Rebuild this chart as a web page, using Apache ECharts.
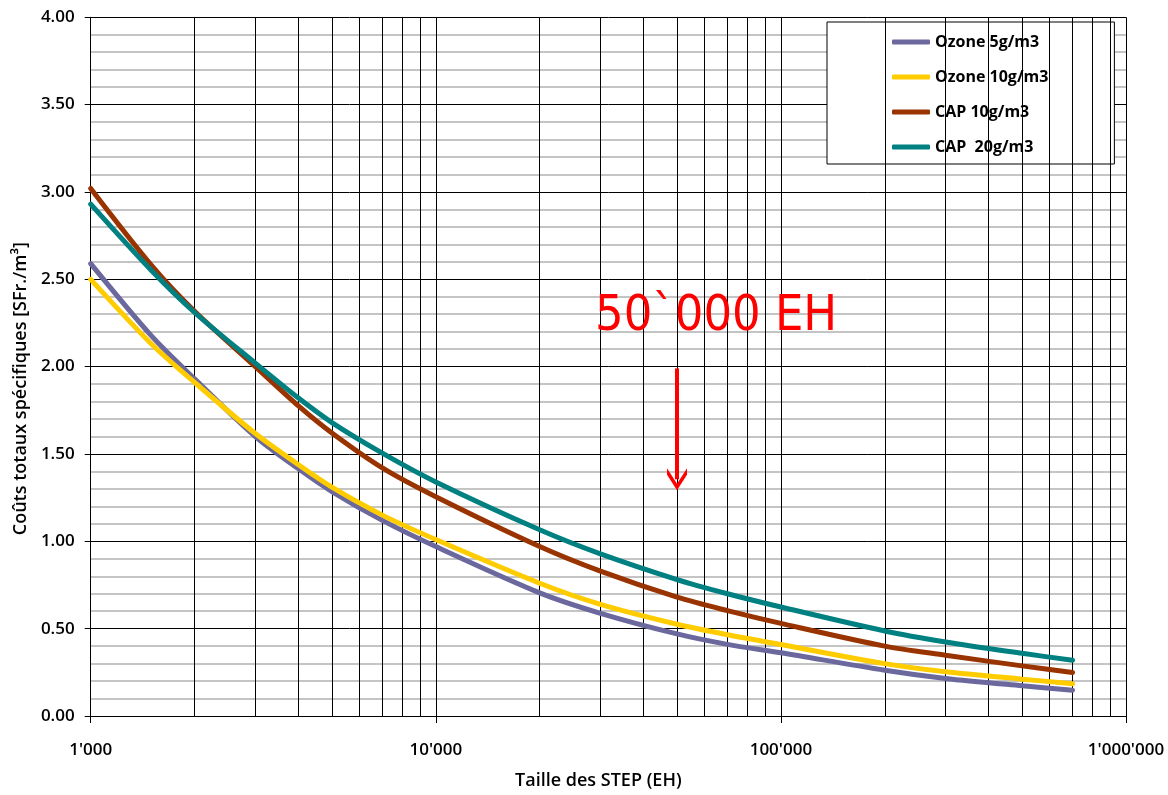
<!DOCTYPE html>
<html><head><meta charset="utf-8">
<script src="https://cdn.jsdelivr.net/npm/echarts@6/dist/echarts.min.js"></script>
<style>html,body{margin:0;padding:0;background:#fff}#c{width:1168px;height:795px}</style>
</head><body><div id="c"></div>
<script>
const sizes = [1000, 1500, 2000, 3000, 4000, 5000, 7000, 10000, 20000, 30000, 50000, 70000, 100000, 200000, 300000, 500000, 700000];
const ozone5  = [2.59, 2.176, 1.93, 1.60, 1.415, 1.285, 1.12, 0.97, 0.705, 0.588, 0.47, 0.41, 0.362, 0.262, 0.215, 0.173, 0.148];
const ozone10 = [2.50, 2.13, 1.91, 1.617, 1.438, 1.31, 1.15, 1.01, 0.76, 0.639, 0.525, 0.465, 0.409, 0.300, 0.253, 0.211, 0.185];
const cap10   = [3.02, 2.58, 2.317, 2.00, 1.775, 1.62, 1.42, 1.255, 0.97, 0.829, 0.680, 0.603, 0.530, 0.400, 0.348, 0.287, 0.249];
const cap20   = [2.93, 2.55, 2.31, 2.02, 1.82, 1.68, 1.505, 1.34, 1.066, 0.928, 0.781, 0.700, 0.624, 0.487, 0.424, 0.359, 0.319];
const seriesNames = ['Ozone 5g/m3', 'Ozone 10g/m3', 'CAP 10g/m3', 'CAP  20g/m3'];
const seriesColors = ['#6B689E', '#FFCC00', '#993300', '#008080'];
const xTickLabels = {1000: "1'000", 10000: "10'000", 100000: "100'000", 1000000: "1'000'000"};
const minorX = [2000,3000,4000,5000,6000,7000,8000,9000,20000,30000,40000,50000,60000,70000,80000,90000,200000,300000,400000,500000,600000,700000,800000,900000];
const annotX = 50000, arrowFrom = 1.99, arrowTo = 1.355;
const annotText = '50`000 EH', annotTextX = 64900, annotTextY = 2.284;

const font = "'Open Sans', 'DejaVu Sans', sans-serif";
const pairs = arr => sizes.map((x, i) => [x, arr[i]]);
const allData = [ozone5, ozone10, cap10, cap20];

const chart = echarts.init(document.getElementById('c'), null, {renderer: 'canvas'});
const series = allData.map((d, i) => ({
  name: seriesNames[i], type: 'line', data: pairs(d), smooth: 0.3,
  symbol: 'none', showSymbol: false,
  z: 5, lineStyle: {width: 5, color: seriesColors[i], cap: 'round'}, itemStyle: {color: seriesColors[i]}
}));
series.push({
  name: 'grid', type: 'line', data: [], z: 1, silent: true,
  markLine: {silent: true, symbol: ['none', 'none'], label: {show: false}, animation: false,
    lineStyle: {color: '#000', width: 1, type: 'solid'},
    data: minorX.map(v => ({xAxis: v}))}
});
series.push({
  name: 'annot', type: 'line', data: [], z: 6, silent: true,
  markLine: {silent: true, symbol: ['none', 'path://M10,0 L20,12 L20,17 L10,5 L0,17 L0,12 Z'], symbolSize: [20, 22],
    label: {show: false}, animation: false,
    itemStyle: {color: '#FF0000'},
    lineStyle: {color: '#FF0000', width: 4, type: 'solid'},
    data: [[{coord: [annotX, arrowFrom]}, {coord: [annotX, arrowTo]}]]},
  markPoint: {silent: true, animation: false, symbol: 'rect', symbolSize: 1, itemStyle: {color: 'rgba(0,0,0,0)'},
    label: {show: true, position: 'inside', formatter: annotText, color: '#FF0000', fontSize: 50,
      fontFamily: "'DejaVu Sans Condensed', 'Liberation Sans', sans-serif"},
    data: [{coord: [annotTextX, annotTextY]}]}
});

chart.setOption({
  animation: false,
  backgroundColor: '#fff',
  grid: {left: 90.7, right: 42, top: 17.3, bottom: 76.3, containLabel: false},
  legend: {
    data: seriesNames, orient: 'vertical', left: 827, top: 22,
    icon: 'roundRect', itemWidth: 38, itemHeight: 5,
    padding: [12, 66, 9, 65], itemGap: 19,
    borderColor: '#000', borderWidth: 1, backgroundColor: '#fff',
    textStyle: {fontFamily: font, fontWeight: 700, fontSize: 16, lineHeight: 16, color: '#000'}
  },
  xAxis: {
    type: 'log', logBase: 10, min: 1000, max: 1000000,
    name: 'Taille des STEP (EH)', nameLocation: 'middle', nameGap: 56,
    nameTextStyle: {fontFamily: font, fontWeight: 600, fontSize: 18, color: '#000', padding: [0, 20, 0, 0]},
    axisLine: {show: true, lineStyle: {color: '#000', width: 1}},
    axisTick: {show: true, length: 7, lineStyle: {color: '#000'}},
    axisLabel: {margin: 26, fontFamily: font, fontWeight: 600, fontSize: 17, color: '#000',
      formatter: v => xTickLabels[Math.round(v)] || ''},
    splitLine: {show: true, lineStyle: {color: '#000', width: 1}},
    minorTick: {show: false}, minorSplitLine: {show: false}
  },
  yAxis: {
    type: 'value', min: 0, max: 4, interval: 0.5,
    name: 'Coûts totaux spécifiques [SFr./m³]', nameLocation: 'middle', nameGap: 60,
    nameTextStyle: {fontFamily: font, fontWeight: 600, fontSize: 18, color: '#000', padding: [0, 44, 0, 0]},
    axisLine: {show: true, lineStyle: {color: '#000', width: 1}},
    axisTick: {show: true, length: 6, lineStyle: {color: '#000'}},
    axisLabel: {margin: 16, fontFamily: font, fontWeight: 600, fontSize: 17, color: '#000',
      formatter: v => v.toFixed(2)},
    splitLine: {show: true, lineStyle: {color: '#000', width: 1}},
    minorTick: {show: false, splitNumber: 5},
    minorSplitLine: {show: true, lineStyle: {color: '#c4c4c4', width: 2}}
  },
  series: series
});
</script></body></html>
